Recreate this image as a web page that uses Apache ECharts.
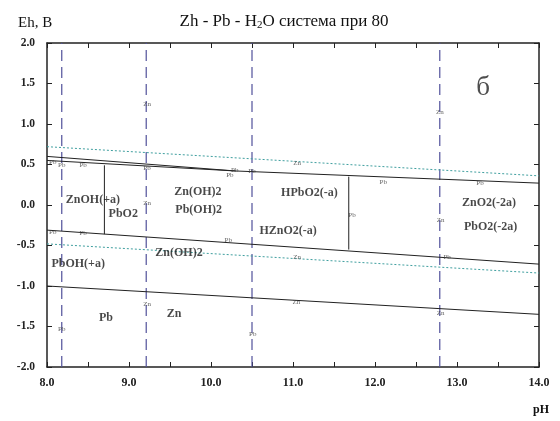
<!DOCTYPE html>
<html>
<head>
<meta charset="utf-8">
<script src="https://cdn.jsdelivr.net/npm/echarts@6/dist/echarts.min.js"></script>
<style>html,body{margin:0;padding:0;background:#fff}#c{width:560px;height:421px}</style>
</head>
<body>
<div id="c"></div>
<script>
// ---- data ----
const titleText = 'Zh - Pb - H{s|2}O система при 80';
const yName = 'Eh, B';
const xName = 'pH';
const panelMark = 'б';
const xRange = [8, 14];
const yRange = [-2, 2];
const dashedVerticals = [8.18, 9.21, 10.5, 12.79];
const upperLineA = [[8, 0.60], [10.3, 0.42], [14, 0.27]];
const upperLineB = [[8, 0.55], [10.3, 0.42]];
const lowerLine = [[8, -0.31], [14, -0.73]];
const bottomLine = [[8, -1.0], [14, -1.35]];
const vertLine1 = [[8.70, 0.49], [8.70, -0.36]];
const vertLine2 = [[11.68, 0.35], [11.68, -0.55]];
const waterUpper = [[8, 0.72], [14, 0.36]];
const waterLower = [[8, -0.48], [14, -0.84]];
const smallLabels = [
  [8.07, 0.53, 'Pb'], [8.18, 0.49, 'Pb'], [8.44, 0.49, 'Pb'], [9.22, 0.46, 'Pb'],
  [10.23, 0.37, 'Pb'], [10.29, 0.43, 'Pb'], [10.50, 0.42, 'Pb'], [12.10, 0.28, 'Pb'],
  [11.72, -0.12, 'Pb'], [13.28, 0.27, 'Pb'], [12.88, -0.64, 'Pb'], [8.07, -0.33, 'Pb'],
  [8.44, -0.35, 'Pb'], [10.21, -0.43, 'Pb'], [8.18, -1.53, 'Pb'], [10.51, -1.60, 'Pb'],
  [9.22, 1.25, 'Zn'], [12.79, 1.15, 'Zn'], [9.22, 0.02, 'Zn'], [11.05, 0.52, 'Zn'],
  [11.05, -0.65, 'Zn'], [12.80, -0.19, 'Zn'], [9.22, -1.22, 'Zn'], [11.04, -1.20, 'Zn'],
  [12.80, -1.33, 'Zn']
];
const regionLabels = [
  [8.56, 0.06, 'ZnOH(+a)'], [8.93, -0.11, 'PbO2'], [9.84, 0.16, 'Zn(OH)2'],
  [9.85, -0.06, 'Pb(OH)2'], [11.20, 0.15, 'HPbO2(-a)'], [10.94, -0.32, 'HZnO2(-a)'],
  [13.39, 0.02, 'ZnO2(-2a)'], [13.41, -0.27, 'PbO2(-2a)'], [8.38, -0.73, 'PbOH(+a)'],
  [9.61, -0.59, 'Zn(OH)2'], [8.72, -1.40, 'Pb'], [9.55, -1.34, 'Zn']
];
const markPos = [13.32, 1.45];

// ---- chart ----
const serif = 'Liberation Serif, Times New Roman, serif';
const frame = '#222';
const chart = echarts.init(document.getElementById('c'), null, {renderer: 'canvas'});

function axisX(pos, labels) {
  return {
    type: 'value', position: pos, min: xRange[0], max: xRange[1], interval: 0.5,
    axisLine: {show: true, onZero: false, lineStyle: {color: frame, width: 1.5}},
    axisTick: {show: true, inside: true, length: 5, lineStyle: {color: frame, width: 1}},
    splitLine: {show: false},
    axisLabel: {show: labels, margin: 10, fontFamily: serif, fontWeight: 'bold', fontSize: 12, color: '#222',
      formatter: v => (Math.abs(v % 1) < 1e-9 ? v.toFixed(1) : '')}
  };
}
function axisY(pos, labels) {
  return {
    type: 'value', position: pos, min: yRange[0], max: yRange[1], interval: 0.5,
    axisLine: {show: true, onZero: false, lineStyle: {color: frame, width: 1.5}},
    axisTick: {show: true, inside: true, length: 5, lineStyle: {color: frame, width: 1}},
    splitLine: {show: false},
    axisLabel: {show: labels, margin: 12, fontFamily: serif, fontWeight: 'bold', fontSize: 11.5, color: '#222',
      formatter: v => v.toFixed(1)}
  };
}
function line(data, color, type, width) {
  return {type: 'line', data: data, symbol: 'none', silent: true, animation: false,
    lineStyle: {color: color, type: type, width: width}, z: 3};
}

const series = [];
dashedVerticals.forEach(x => series.push(line([[x, yRange[0]], [x, yRange[1]]], '#50509a', [11, 6], 1.2)));
series.push(line(waterUpper, '#3f9f9f', [2, 2], 1));
series.push(line(waterLower, '#3f9f9f', [2, 2], 1));
[upperLineA, upperLineB, lowerLine, bottomLine, vertLine1, vertLine2].forEach(d => series.push(line(d, '#222', 'solid', 1)));

function labelSeries(data, style) {
  return {type: 'scatter', silent: true, animation: false, symbol: 'circle', symbolSize: 1,
    itemStyle: {color: 'rgba(0,0,0,0)'},
    data: data.map(d => ({value: [d[0], d[1]], name: d[2]})),
    label: Object.assign({show: true, position: 'inside', formatter: p => p.name,
      align: 'center', verticalAlign: 'middle'}, style),
    labelLayout: {hideOverlap: false}, z: 5};
}
series.push(labelSeries(smallLabels, {fontFamily: serif, fontSize: 7, color: '#3a3a3a'}));
series.push(labelSeries(regionLabels, {fontFamily: serif, fontSize: 12, fontWeight: 'bold', color: '#1a1a1a'}));
series.push(labelSeries([[markPos[0], markPos[1], panelMark]], {fontFamily: serif, fontSize: 27, color: '#222'}));

chart.setOption({
  animation: false,
  backgroundColor: '#fff',
  title: [
    {text: titleText, left: 279, top: 8, textAlign: 'center',
      textStyle: {fontFamily: serif, fontSize: 17, fontWeight: 'normal', color: '#111',
        rich: {s: {fontFamily: serif, fontSize: 11, verticalAlign: 'bottom', padding: [7, 0, 0, 0], color: '#111'}}}},
    {text: yName, left: 13, top: 11, textStyle: {fontFamily: serif, fontSize: 15, fontWeight: 'normal', color: '#111'}},
    {text: xName, left: 528, top: 399, textStyle: {fontFamily: serif, fontSize: 12, fontWeight: 'bold', color: '#111'}}
  ],
  grid: {left: 47, right: 21, top: 43, bottom: 54, containLabel: false},
  xAxis: [axisX('bottom', true), axisX('top', false)],
  yAxis: [axisY('left', true), axisY('right', false)],
  series: series
});
</script>
</body>
</html>
